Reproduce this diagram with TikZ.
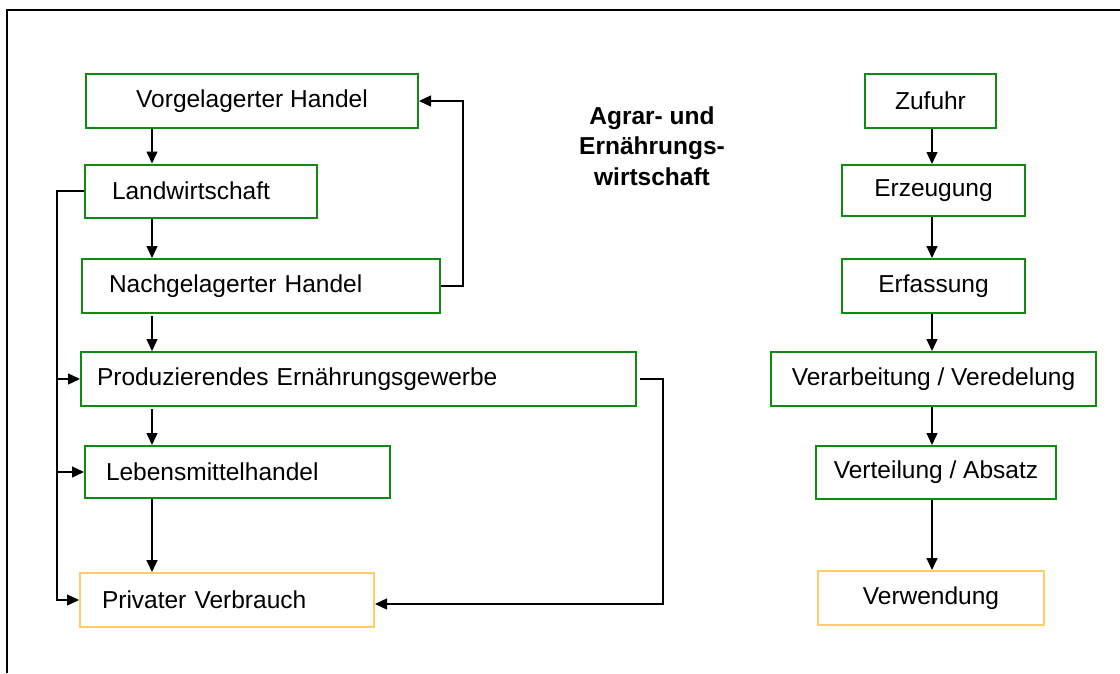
\documentclass[tikz,border=0pt]{standalone}
\usepackage{fontspec}
\setmainfont{Liberation Sans}
\usetikzlibrary{arrows.meta,positioning}
\definecolor{boxgreen}{HTML}{108A10}
\definecolor{boxorange}{HTML}{FFCC66}

\begin{document}
\begin{tikzpicture}[x=1pt,y=-1pt,
  every node/.style={font=\fontsize{24.5}{30}\selectfont},
  gbox/.style={draw=boxgreen,line width=2pt,minimum height=54pt,inner ysep=0pt},
  obox/.style={gbox,draw=boxorange},
  lbox/.style={anchor=west,align=left},
  arr/.style={line width=1.4pt,-{Triangle[length=12pt,width=11pt]}}]
\useasboundingbox (0,0) rectangle (1120,673);
\draw[line width=2pt] (7,673) -- (7,10) -- (1120,10);
% left chain
\node[gbox,minimum width=332pt] (vh) at (252,101) {Vorgelagerter Handel};
\node[gbox,lbox,minimum height=53pt,text width=178pt,inner xsep=27pt] (lw) at (84,191) {Landwirtschaft};
\node[gbox,lbox,text width=304pt,inner xsep=27pt] (nh) at (81,286) {Nachgelagerter Handel};
\node[gbox,lbox,text width=523pt,inner xsep=16pt] (pe) at (80,379) {Produzierendes Ernährungsgewerbe};
\node[gbox,lbox,minimum height=52pt,text width=263pt,inner xsep=21pt] (lh) at (84,472) {Lebensmittelhandel};
\node[obox,lbox,text width=250pt,inner xsep=22pt] (pv) at (79,600) {Privater Verbrauch};
% title
\node[align=center,font=\fontsize{24.5}{30.5}\selectfont\bfseries] (ti) at (652,146) {Agrar- und\\Ernährungs-\\wirtschaft};
% right chain
\node[gbox,minimum width=131pt] (zf) at (930.5,101) {Zufuhr};
\node[gbox,minimum width=183pt,minimum height=51pt] (ez) at (933.5,190.5) {Erzeugung};
\node[gbox,minimum width=183pt] (ef) at (933.5,286) {Erfassung};
\node[gbox,minimum width=325pt] (vv) at (933.5,379) {Verarbeitung / Veredelung};
\node[gbox,minimum width=240pt,minimum height=53pt] (va) at (936,472.5) {Verteilung / Absatz};
\node[obox,minimum width=226pt] (vw) at (931,598) {Verwendung};
\coordinate (lc) at (152,0);
\coordinate (rc) at (932,0);
\coordinate (lt) at (57,0);
\coordinate (fb) at (463,0);
\coordinate (rt) at (663,0);
\coordinate (pvin) at ([yshift=-4pt]pv.east);
\draw[arr] (vh.south -| lc) -- (lw.north -| lc);
\draw[arr] (lw.south -| lc) -- (nh.north -| lc);
\draw[arr] ([yshift=-2pt]nh.south -| lc) -- (pe.north -| lc);
\draw[arr] ([yshift=-2pt]pe.south -| lc) -- (lh.north -| lc);
\draw[arr] (lh.south -| lc) -- (pv.north -| lc);
\draw[arr] (lw.west) -| (lt |- pv.west) -- (pv.west);
\draw[arr] (lt |- pe.west) -- (pe.west);
\draw[arr] (lt |- lh.west) -- (lh.west);
\draw[arr] (nh.east) -| (fb |- vh.east) -- (vh.east);
\draw[arr] ([xshift=3pt]pe.east) -| (rt |- pvin) -- (pvin);
\draw[arr] (zf.south -| rc) -- (ez.north -| rc);
\draw[arr] (ez.south -| rc) -- (ef.north -| rc);
\draw[arr] (ef.south -| rc) -- (vv.north -| rc);
\draw[arr] (vv.south -| rc) -- (va.north -| rc);
\draw[arr] (va.south -| rc) -- (vw.north -| rc);
\end{tikzpicture}
\end{document}
